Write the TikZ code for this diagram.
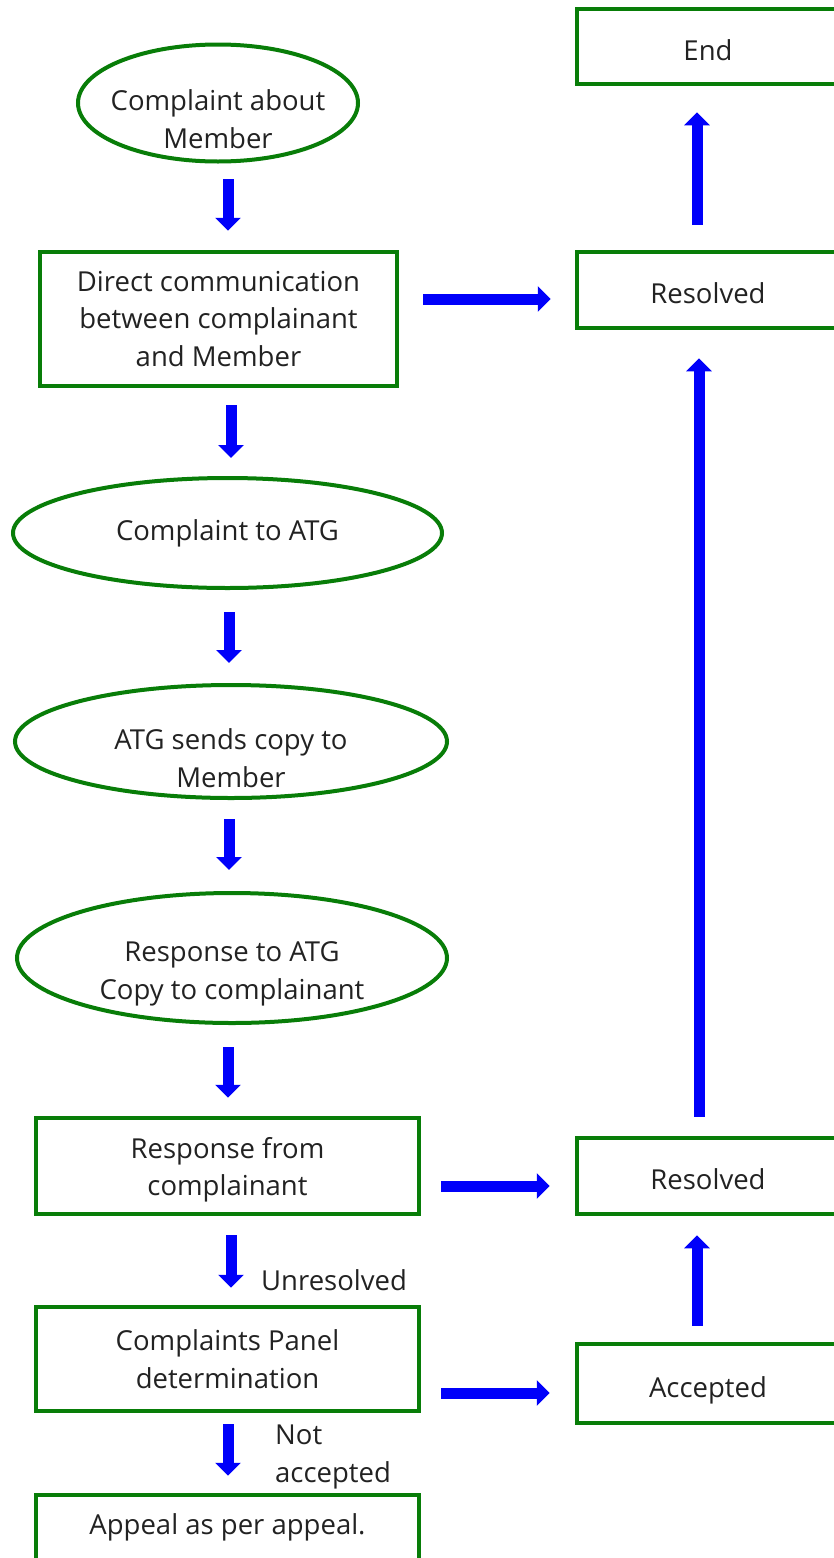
\documentclass[tikz,border=0pt]{standalone}
\usepackage{fontspec}
\setmainfont{Open Sans}
\usetikzlibrary{shapes.geometric,arrows.meta}
\definecolor{boxgreen}{RGB}{8,125,8}
\definecolor{arrblue}{RGB}{0,0,250}
\definecolor{txtgray}{RGB}{34,34,34}
\tikzset{
  procbox/.style={draw=boxgreen, line width=4.5pt, rectangle, align=center, inner sep=0pt, text=txtgray,
    font=\fontsize{27.5pt}{37.5pt}\selectfont},
  sidebox/.style={procbox, minimum width=262pt, text height=27pt, text depth=0pt},
  ovalbox/.style={draw=boxgreen, line width=4pt, ellipse, inner sep=0pt},
  txt/.style={align=center, inner sep=0pt, text=txtgray, font=\fontsize{27.5pt}{37.5pt}\selectfont},
  barrow/.style={draw=arrblue, line width=11pt, -{Triangle[width=25pt,length=13pt]}, arrblue},
}
\begin{document}
\begin{tikzpicture}[x=1pt,y=-1pt]
\useasboundingbox (0,0) rectangle (834,1558);
\clip (0,0) rectangle (834,1558);

% right column boxes
\node[sidebox, minimum height=75pt] (endb) at (708,46.5) {End};
\node[sidebox, minimum height=76pt] (res1) at (708,290) {Resolved};
\node[sidebox, minimum height=76pt] (res2) at (708,1176) {Resolved};
\node[sidebox, minimum height=79pt] (acc) at (708,1383.5) {Accepted};

% left column
\node[ovalbox, minimum width=280pt, minimum height=117pt] (e0) at (218,103) {};
\node[txt] (e0t) at (218,119) {Complaint about\\Member};

\node[procbox, minimum width=357pt, minimum height=134pt] (direct) at (218.5,319)
  {Direct communication\\between complainant\\and Member};

\node[ovalbox, minimum width=429pt, minimum height=110pt] (e1) at (227.5,533) {};
\node[txt] (e1t) at (227.5,533) {Complaint to ATG};

\node[ovalbox, minimum width=432pt, minimum height=113pt] (e2) at (231,741.5) {};
\node[txt] (e2t) at (231,758) {ATG sends copy to\\Member};

\node[ovalbox, minimum width=430pt, minimum height=130pt] (e3) at (232,958) {};
\node[txt] (e3t) at (232,974) {Response to ATG\\Copy to complainant};

\node[procbox, minimum width=383pt, minimum height=96pt] (respfrom) at (227.5,1166) {};
\node[txt] (respfromt) at (227.5,1170) {Response from\\complainant};

\node[procbox, minimum width=383pt, minimum height=104pt] (panel) at (227.5,1359)
  {Complaints Panel\\determination};

\node[procbox, minimum width=383pt, minimum height=110pt] (appeal) at (227.5,1550) {};
\node[txt] (appealt) at (227.5,1527) {Appeal as per appeal.};

% labels
\node[txt, anchor=west] (unres) at (261,1280) {Unresolved};
\node[txt, anchor=west, align=left] (notacc) at (275,1457) {Not\\accepted};

% vertical down arrows
\draw[barrow] ([xshift=10pt,yshift=-15.5pt]e0.south) -- ([xshift=9.5pt,yshift=19pt]direct.north);
\draw[barrow] ([xshift=12.5pt,yshift=-17pt]direct.south) -- ([xshift=3.5pt,yshift=18pt]e1.north);
\draw[barrow] ([xshift=1.5pt,yshift=-22pt]e1.south) -- ([xshift=-2pt,yshift=20pt]e2.north);
\draw[barrow] ([xshift=-2pt,yshift=-19pt]e2.south) -- ([xshift=-3pt,yshift=21pt]e3.north);
\draw[barrow] ([xshift=-4pt,yshift=-22pt]e3.south) -- ([xshift=0.5pt,yshift=18pt]respfrom.north);
\draw[barrow] ([xshift=3.5pt,yshift=-19pt]respfrom.south) -- ([xshift=3.5pt,yshift=17pt]panel.north);
\draw[barrow] ([xshift=0.5pt,yshift=-11pt]panel.south) -- ([xshift=0.5pt,yshift=17pt]appeal.north);

% horizontal arrows
\draw[barrow] ([xshift=24pt,yshift=20pt]direct.east) -- ([xshift=-24pt,yshift=-9pt]res1.west);
\draw[barrow] ([xshift=20pt,yshift=-20pt]respfrom.east) -- ([xshift=-25pt,yshift=-10pt]res2.west);
\draw[barrow] ([xshift=20pt,yshift=-34pt]panel.east) -- ([xshift=-25pt,yshift=-9.5pt]acc.west);

% up arrows
\draw[barrow] ([xshift=-11pt,yshift=25pt]res1.north) -- ([xshift=-11pt,yshift=-26pt]endb.south);
\draw[barrow] ([xshift=-9pt,yshift=19pt]res2.north) -- ([xshift=-9pt,yshift=-28pt]res1.south);
\draw[barrow] ([xshift=-11pt,yshift=16pt]acc.north) -- ([xshift=-11pt,yshift=-19pt]res2.south);
\end{tikzpicture}
\end{document}
